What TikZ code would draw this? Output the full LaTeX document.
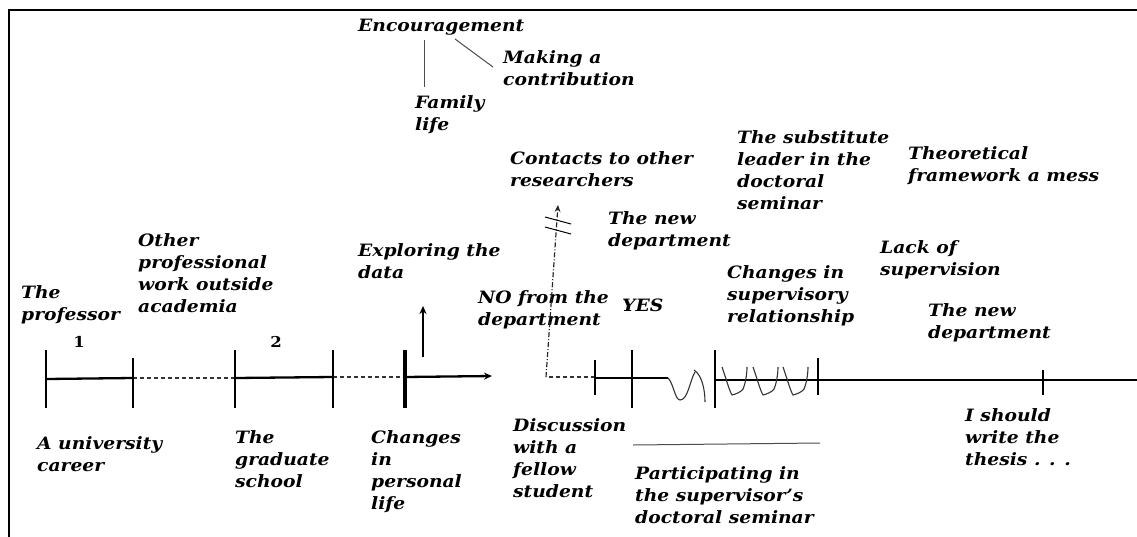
\documentclass[tikz,border=0pt]{standalone}
\usepackage{fontspec}
\setmainfont{DejaVu Serif}[FakeStretch=1.1]
\usetikzlibrary{arrows.meta}
\newcommand{\handfont}{\fontsize{17}{22}\selectfont\bfseries\itshape}
\begin{document}
\begin{tikzpicture}[x=1pt,y=-1pt,
  lbl/.style={anchor=north west,inner sep=0pt,align=left,font=\handfont,text=black},
  num/.style={inner sep=0pt,font=\fontsize{15}{18}\selectfont\bfseries},
  tl/.style={line width=2.3pt,black},
  tlthick/.style={line width=4.5pt,black},
  dsh/.style={line width=1.3pt,black!80,dash pattern=on 4pt off 3pt},
  dd/.style={line width=1.2pt,black!85,dash pattern=on 5pt off 2pt on 1pt off 2pt},
  con/.style={line width=1pt,black!70},
  sq/.style={line width=1.1pt,black!80},
  frame/.style={line width=2.6pt,black}]
\useasboundingbox (0,0) rectangle (1137,536);
% frame
\draw[frame] (9,540) -- (9,10) -- (1140,10);

% ---------- labels ----------
\node[lbl] (enc) at (358,19) {Encouragement};
\node[lbl] (mak) at (503,50) {Making a\\contribution};
\node[lbl] (fam) at (415,95) {Family\\life};
\node[lbl] (cont) at (510,151) {Contacts to other\\researchers};
\node[lbl] (newdepa) at (608,211) {The new\\department};
\node[lbl] (expl) at (358,243) {Exploring the\\data};
\node[lbl] (prof) at (21,285) {The\\professor};
\node[lbl] (other) at (138,233) {Other\\professional\\work outside\\academia};
\node[lbl] (univ) at (37,436) {A university\\career};
\node[lbl] (grad) at (235,430) {The\\graduate\\school};
\node[lbl] (chg) at (371,430) {Changes\\in\\personal\\life};
\node[lbl] (nodep) at (478,290) {NO from the\\department};
\node[lbl] (yes) at (622,299) {YES};
\node[lbl] (chsup) at (727,265) {Changes in\\supervisory\\relationship};
\node[lbl] (disc) at (513,418) {Discussion\\with a\\fellow\\student};
\node[lbl] (part) at (635,466) {Participating in\\the supervisor’s\\doctoral seminar};
\node[lbl] (subst) at (737,130) {The substitute\\leader in the\\doctoral\\seminar};
\node[lbl] (theo) at (908,146) {Theoretical\\framework a mess};
\node[lbl] (lack) at (880,240) {Lack of\\supervision};
\node[lbl] (newdepb) at (928,303) {The new\\department};
\node[lbl] (write) at (965,408) {I should\\write the\\thesis . . .};
\node[num] (one) at (79,342) {1};
\node[num] (two) at (276,342) {2};

% connectors of the top cluster
\coordinate (e1) at (455,39);
\coordinate (m1) at (493,67);
\coordinate (e2) at (424,40);
\coordinate (f1) at (424,87);
\draw[con] (e1) -- (m1);
\draw[con] (e2) -- (f1);

% ---------- timeline, left part ----------
\coordinate (t1) at (46,379);
\coordinate (t2) at (133,378);
\coordinate (t3) at (235,378);
\coordinate (t4) at (333,377);
\coordinate (t5) at (405,377);
\coordinate (aend) at (492,376);
\draw[tl] (t1) -- (t2);
\draw[dsh] (t2) -- (t3);
\draw[tl] (t3) -- (t4);
\draw[dsh] (t4) -- (t5);
\draw[tl,-{Stealth[length=8pt,width=7pt]}] (t5) -- (aend);
\draw[tl] (46,350) -- (46,408);
\draw[tl] (133,358) -- (133,408);
\draw[tl] (235,350) -- (235,408);
\draw[tl] (333,350) -- (333,408);
\draw[tlthick] (405,350) -- (405,408);
\coordinate (u1) at (423,357);
\coordinate (u2) at (423,306);
\draw[tl,-{Stealth[length=8pt,width=7pt]}] (u1) -- (u2);

% ---------- dash-dot branch ----------
\coordinate (b0) at (595,377);
\coordinate (b1) at (546,377);
\coordinate (b2) at (558,205);
\draw[dsh] (b0) -- (b1);
\draw[dd,-{Stealth[length=7pt,width=6pt]}] (b1) -- (b2);
\draw[con,black] (545,217) -- (571,224);
\draw[con,black] (545,227) -- (571,234);

% ---------- timeline, right part ----------
\coordinate (r1) at (595,378);
\coordinate (r2) at (668,378);
\coordinate (r3) at (715,380);
\coordinate (r4) at (1140,380);
\draw[tl] (r1) -- (r2);
\draw[tl] (r3) -- (r4);
\draw[tl] (595,360) -- (595,395);
\draw[tl] (632,350) -- (632,408);
\draw[tl] (715,350) -- (715,408);
\draw[tl] (818,358) -- (818,395);
\draw[tl] (1043,370) -- (1043,395);
% squiggles
\draw[sq] (r2) .. controls (673,382) and (675,400) .. (680,400)
  .. controls (688,400) and (690,380) .. (695,372);
\draw[sq] (694,370) .. controls (702,375) and (705,390) .. (705,402);
\foreach \s in {722,753,783}{
  \draw[sq] (\s,367) .. controls (\s+4,378) and (\s+7,390) .. (\s+10,395)
    .. controls (\s+14,394) and (\s+19,392) .. (\s+21,389)
    .. controls (\s+24,382) and (\s+25,372) .. (\s+25,367);
}
% seminar line
\coordinate (s1) at (633,445);
\coordinate (s2) at (820,443);
\draw[con] (s1) -- (s2);
\end{tikzpicture}
\end{document}
